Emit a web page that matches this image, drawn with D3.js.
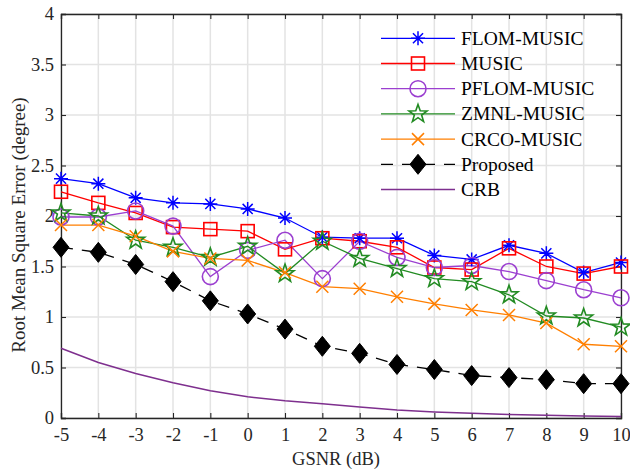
<!DOCTYPE html>
<html><head><meta charset="utf-8">
<script src="https://cdn.jsdelivr.net/npm/d3@7"></script>
<style>body{margin:0;background:#fff}svg{display:block}</style>
</head><body>
<svg id="c" width="630" height="472"></svg>
<script>
const gsnr = [-5,-4,-3,-2,-1,0,1,2,3,4,5,6,7,8,9,10];
const flom   = [2.37,2.32,2.18,2.13,2.12,2.07,1.98,1.79,1.78,1.78,1.61,1.57,1.71,1.63,1.44,1.54];
const music  = [2.24,2.13,2.03,1.89,1.87,1.85,1.67,1.78,1.75,1.69,1.49,1.47,1.68,1.50,1.43,1.50];
const pflom  = [1.99,1.99,2.05,1.90,1.40,1.66,1.76,1.38,1.75,1.59,1.49,1.51,1.45,1.36,1.27,1.19];
const zmnl   = [2.03,2.00,1.76,1.69,1.59,1.70,1.43,1.75,1.58,1.48,1.38,1.35,1.22,1.01,0.99,0.90];
const crco   = [1.91,1.91,1.80,1.65,1.58,1.56,1.44,1.30,1.28,1.20,1.13,1.07,1.02,0.94,0.73,0.71];
const proposed = [1.69,1.64,1.52,1.35,1.16,1.03,0.88,0.71,0.64,0.53,0.48,0.42,0.40,0.38,0.34,0.34];
const crb    = [0.69,0.55,0.44,0.35,0.27,0.21,0.17,0.14,0.11,0.08,0.06,0.046,0.034,0.026,0.02,0.014];
const xTicks = [-5,-4,-3,-2,-1,0,1,2,3,4,5,6,7,8,9,10];
const yTicks = [0,0.5,1,1.5,2,2.5,3,3.5,4];
const seriesNames = ["FLOM-MUSIC","MUSIC","PFLOM-MUSIC","ZMNL-MUSIC","CRCO-MUSIC","Proposed","CRB"];

const series = [
  {name:seriesNames[0], v:flom, color:"#0000ff", marker:"asterisk"},
  {name:seriesNames[1], v:music, color:"#ff0000", marker:"square"},
  {name:seriesNames[2], v:pflom, color:"#9b3fd0", marker:"circle"},
  {name:seriesNames[3], v:zmnl, color:"#228b22", marker:"star"},
  {name:seriesNames[4], v:crco, color:"#ff7f00", marker:"x"},
  {name:seriesNames[5], v:proposed, color:"#000000", marker:"diamond", dash:"12,9"},
  {name:seriesNames[6], v:crb, color:"#7e2f8e", marker:null}
];

const L=61, R=621, T=14, B=418;
const svg = d3.select("#c");
const x = d3.scaleLinear().domain([-5,10]).range([L,R]);
const y = d3.scaleLinear().domain([0,4]).range([B,T]);
const font = "'Liberation Serif','Times New Roman',serif";

// grid
const g = svg.append("g");
g.selectAll(".gx").data(xTicks).enter().append("line")
  .attr("x1",d=>x(d)).attr("x2",d=>x(d)).attr("y1",T).attr("y2",B)
  .attr("stroke","#e3e3e3").attr("stroke-width",1.5);
g.selectAll(".gy").data(yTicks).enter().append("line")
  .attr("y1",d=>y(d)).attr("y2",d=>y(d)).attr("x1",L).attr("x2",R)
  .attr("stroke","#e3e3e3").attr("stroke-width",1.5);

// axes
const ax = svg.append("g").attr("transform",`translate(0,${B})`)
  .call(d3.axisBottom(x).tickValues(xTicks).tickSize(-5).tickPadding(10).tickFormat(d=>String(d)));
const axT = svg.append("g").attr("transform",`translate(0,${T})`)
  .call(d3.axisTop(x).tickValues(xTicks).tickSize(-5).tickFormat(""));
const ay = svg.append("g").attr("transform",`translate(${L},0)`)
  .call(d3.axisLeft(y).tickValues(yTicks).tickSize(-5).tickPadding(7).tickFormat(d=>String(d)));
const ayR = svg.append("g").attr("transform",`translate(${R},0)`)
  .call(d3.axisRight(y).tickValues(yTicks).tickSize(-5).tickFormat(""));
[ax,axT,ay,ayR].forEach(a=>{
  a.select(".domain").attr("stroke","#262626").attr("stroke-width",1.3);
  a.selectAll(".tick line").attr("stroke","#262626").attr("stroke-width",1.1);
  a.selectAll("text").attr("font-family",font).attr("font-size",18.5).attr("fill","#262626");
});

// markers
function drawMarker(sel, type, color){
  if(type==="asterisk"){
    const r=7, d=r*0.72;
    sel.append("path").attr("d",`M${-r},0L${r},0M0,${-r}L0,${r}M${-d},${-d}L${d},${d}M${-d},${d}L${d},${-d}`)
      .attr("stroke",color).attr("stroke-width",1.5).attr("fill","none");
  } else if(type==="square"){
    sel.append("rect").attr("x",-6.5).attr("y",-6.5).attr("width",13).attr("height",13)
      .attr("stroke",color).attr("stroke-width",1.6).attr("fill","none");
  } else if(type==="circle"){
    sel.append("circle").attr("r",8).attr("stroke",color).attr("stroke-width",1.6).attr("fill","none");
  } else if(type==="star"){
    const pts=[]; const ro=9.5, ri=3.8;
    for(let i=0;i<10;i++){const a=-Math.PI/2+i*Math.PI/5; const r=i%2?ri:ro; pts.push([r*Math.cos(a),r*Math.sin(a)]);}
    sel.append("path").attr("d","M"+pts.map(p=>p.join(",")).join("L")+"Z")
      .attr("stroke",color).attr("stroke-width",1.6).attr("fill","none");
  } else if(type==="x"){
    const r=6;
    sel.append("path").attr("d",`M${-r},${-r}L${r},${r}M${-r},${r}L${r},${-r}`)
      .attr("stroke",color).attr("stroke-width",1.5).attr("fill","none");
  } else if(type==="diamond"){
    sel.append("path").attr("d","M0,-10L8,0L0,10L-8,0Z").attr("fill",color).attr("stroke",color).attr("stroke-width",1);
  }
}

const line = d3.line().x((d,i)=>x(gsnr[i])).y(d=>y(d));
const plot = svg.append("g");
series.forEach(s=>{
  plot.append("path").datum(s.v).attr("d",line).attr("fill","none")
    .attr("stroke",s.color).attr("stroke-width",s.marker?1.3:1.5)
    .attr("stroke-dasharray",s.dash||null);
});
series.forEach(s=>{
  if(!s.marker) return;
  s.v.forEach((v,i)=>{
    const m = plot.append("g").attr("transform",`translate(${x(gsnr[i])},${y(v)})`);
    drawMarker(m, s.marker, s.color);
  });
});

// legend
const lg = svg.append("g");
series.forEach((s,i)=>{
  const cy = 38.3 + i*25.2;
  const row = lg.append("g").attr("transform",`translate(0,${cy})`);
  row.append("line").attr("x1",381).attr("x2",455).attr("y1",0).attr("y2",0)
    .attr("stroke",s.color).attr("stroke-width",s.marker?1.3:1.5).attr("stroke-dasharray",s.dash||null);
  if(s.marker){
    const m=row.append("g").attr("transform","translate(418,0)");
    drawMarker(m,s.marker,s.color);
  }
  row.append("text").attr("x",461).attr("y",6.5).text(s.name)
    .attr("font-family",font).attr("font-size",19.5).attr("fill","#000");
});

// labels
svg.append("text").attr("x",336).attr("y",465).attr("text-anchor","middle")
  .attr("font-family",font).attr("font-size",18.5).attr("fill","#262626").text("GSNR (dB)");
svg.append("text").attr("transform",`translate(25,225) rotate(-90)`).attr("text-anchor","middle")
  .attr("font-family",font).attr("font-size",19).attr("fill","#262626").text("Root Mean Square Error (degree)");
</script>
</body></html>
